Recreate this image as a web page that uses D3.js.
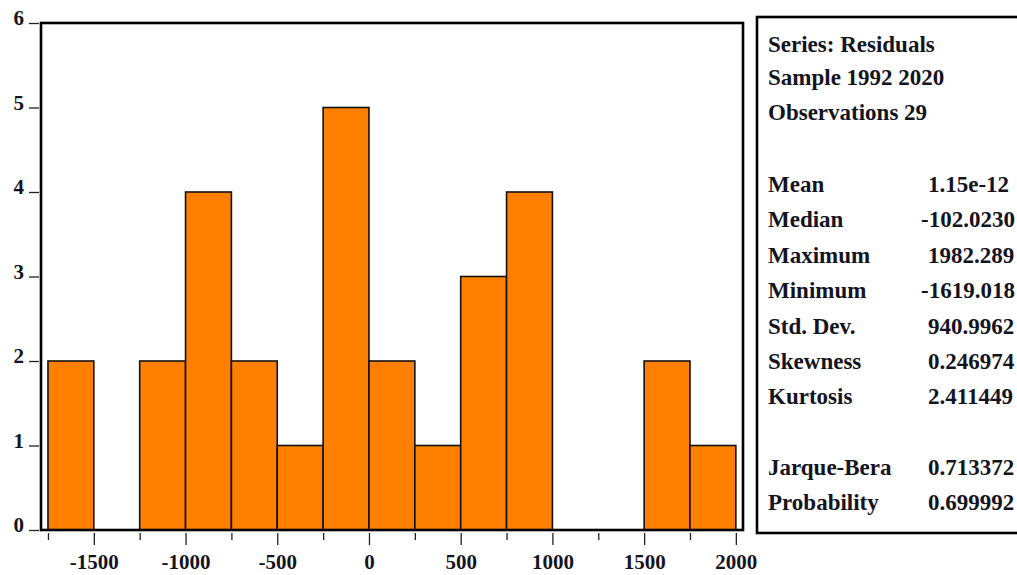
<!DOCTYPE html>
<html>
<head>
<meta charset="utf-8">
<script src="https://cdn.jsdelivr.net/npm/d3@7"></script>
<style>
  html, body { margin: 0; padding: 0; background: #fff; overflow: hidden; }
  svg { display: block; }
  text { font-family: "Liberation Serif", "DejaVu Serif", serif; font-weight: bold; fill: #14141f; }
</style>
</head>
<body>
<svg id="chart" width="1017" height="575"></svg>
<script>
// ---- data ----
const binStarts = [-1750, -1500, -1250, -1000, -750, -500, -250, 0, 250, 500, 750, 1000, 1250, 1500, 1750];
const binWidth = 250;
const counts = [2, 0, 2, 4, 2, 1, 5, 2, 1, 3, 4, 0, 0, 2, 1];
const yTicks = [0, 1, 2, 3, 4, 5, 6];
const xMajorTicks = [-1500, -1000, -500, 0, 500, 1000, 1500, 2000];
const xMinorTicks = [-1750, -1250, -750, -250, 250, 750, 1250, 1750];
const headerLines = ["Series: Residuals", "Sample 1992 2020", "Observations 29"];
const statLabels = ["Mean", "Median", "Maximum", "Minimum", "Std. Dev.", "Skewness", "Kurtosis"];
const statValues = ["1.15e-12", "-102.0230", "1982.289", "-1619.018", "940.9962", "0.246974", "2.411449"];
const testLabels = ["Jarque-Bera", "Probability"];
const testValues = ["0.713372", "0.699992"];

// ---- layout ----
const svg = d3.select("#chart");
const plot = { left: 41, right: 743, top: 23, bottom: 530 };

const x = d3.scaleLinear().domain([-1788, 2039]).range([plot.left, plot.right]);
const y = d3.scaleLinear().domain([0, 6]).range([plot.bottom, plot.top]);

// bars
const bins = binStarts.map((s, i) => ({ x0: s, x1: s + binWidth, n: counts[i] }));
svg.append("g").selectAll("rect")
  .data(bins.filter(d => d.n > 0))
  .join("rect")
  .attr("x", d => x(d.x0))
  .attr("width", d => x(d.x1) - x(d.x0))
  .attr("y", d => y(d.n))
  .attr("height", d => y(0) - y(d.n))
  .attr("fill", "#ff8000")
  .attr("stroke", "#111")
  .attr("stroke-width", 1.6);

// frame
svg.append("rect")
  .attr("x", plot.left).attr("y", plot.top)
  .attr("width", plot.right - plot.left).attr("height", plot.bottom - plot.top)
  .attr("fill", "none").attr("stroke", "#000").attr("stroke-width", 2.6);

// y axis
const yAxis = d3.axisLeft(y).tickValues(yTicks).tickSize(10).tickPadding(5).tickFormat(d3.format("d"));
const gy = svg.append("g").attr("transform", `translate(${plot.left - 2},0)`).call(yAxis);
gy.select(".domain").remove();
gy.selectAll(".tick line").attr("stroke", "#222").attr("stroke-width", 1.3);
gy.selectAll(".tick text").style("font-size", "21px").attr("fill", "#14141f").attr("dy", "0.08em");

// x axis major
const xAxis = d3.axisBottom(x).tickValues(xMajorTicks).tickSize(12).tickPadding(9).tickFormat(d3.format("d"));
const gx = svg.append("g").attr("transform", `translate(0,${plot.bottom + 3})`).call(xAxis);
gx.select(".domain").remove();
gx.selectAll(".tick line").attr("stroke", "#222").attr("stroke-width", 1.3);
gx.selectAll(".tick text").style("font-size", "21px").attr("fill", "#14141f")
  .text(d => d < 0 ? "-" + Math.abs(d) : d);

// x axis minor
const xAxisMinor = d3.axisBottom(x).tickValues(xMinorTicks).tickSize(7).tickFormat("");
const gxm = svg.append("g").attr("transform", `translate(0,${plot.bottom + 3})`).call(xAxisMinor);
gxm.select(".domain").remove();
gxm.selectAll(".tick line").attr("stroke", "#222").attr("stroke-width", 1.3);

// stats box
svg.append("rect")
  .attr("x", 757).attr("y", 17).attr("width", 300).attr("height", 516)
  .attr("fill", "#fff").attr("stroke", "#000").attr("stroke-width", 2.6);

const tx = 768, vx = 928, fs = "23px";
const g = svg.append("g");
const headerY = [52, 85, 120];
headerLines.forEach((t, i) => {
  g.append("text").attr("x", tx).attr("y", headerY[i]).style("font-size", fs).text(t);
});
const statY0 = 192, step = 35.4;
statLabels.forEach((t, i) => {
  const yy = statY0 + i * step;
  g.append("text").attr("x", tx).attr("y", yy).style("font-size", fs).text(t);
  const v = statValues[i];
  g.append("text").attr("x", v.startsWith("-") ? vx - 7 : vx).attr("y", yy).style("font-size", fs).text(v);
});
const testY0 = 475;
testLabels.forEach((t, i) => {
  const yy = testY0 + i * step;
  g.append("text").attr("x", tx).attr("y", yy).style("font-size", fs).text(t);
  g.append("text").attr("x", vx).attr("y", yy).style("font-size", fs).text(testValues[i]);
});
</script>
</body>
</html>
